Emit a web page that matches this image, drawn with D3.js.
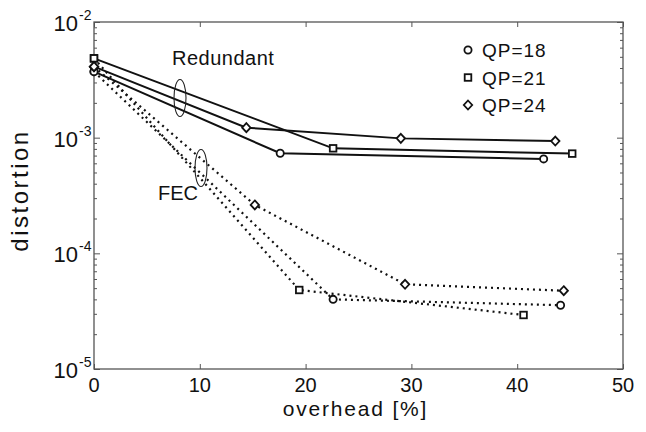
<!DOCTYPE html>
<html>
<head>
<meta charset="utf-8">
<script src="https://cdn.jsdelivr.net/npm/d3@7"></script>
<style>
  body { margin: 0; background: #fff; }
  text { font-family: "Liberation Sans", Arial, sans-serif; fill: #111; }
</style>
</head>
<body>
<div id="chart"></div>
<script>
(function(){

// qp series, overhead [%] and distortion
var qps = ["QP=18", "QP=21", "QP=24"];
var shapes = ["circle", "square", "diamond"];

var redOverhead = [[0, 17.6, 42.5], [0, 22.6, 45.2], [0, 14.4, 29.0, 43.6]];
var redDistortion = [[3.72e-3, 7.33e-4, 6.55e-4],
                     [4.85e-3, 8.09e-4, 7.28e-4],
                     [4.11e-3, 1.22e-3, 9.86e-4, 9.35e-4]];

var fecOverhead = [[0, 22.6, 44.1], [0, 19.4, 40.6], [0, 15.2, 29.4, 44.4]];
var fecDistortion = [[3.72e-3, 4.0e-5, 3.56e-5],
                     [4.85e-3, 4.82e-5, 2.93e-5],
                     [4.11e-3, 2.62e-4, 5.4e-5, 4.75e-5]];

var xTicks = [0, 10, 20, 30, 40, 50];
var yExps = [-2, -3, -4, -5];

var margin = {top: 22, right: 23, bottom: 63, left: 94},
    width = 646 - margin.left - margin.right,
    height = 432 - margin.top - margin.bottom;

var svg = d3.select("#chart")
  .append("svg")
    .attr("width", 646)
    .attr("height", 432)
  .append("g")
    .attr("transform", "translate(" + margin.left + "," + margin.top + ")");

var x = d3.scaleLinear().domain([0, 50]).range([0, width]);
var y = d3.scaleLog().domain([1e-5, 1e-2]).range([height, 0]);

var frameColor = "#555";

// minor + major ticks for the log axis
var yMinor = [];
for (var e = -5; e < -2; e++) {
  for (var k = 2; k <= 9; k++) yMinor.push(k * Math.pow(10, e));
}
var yMajor = yExps.map(function(p) { return Math.pow(10, p); });

function styleAxis(g) {
  g.select(".domain").remove();
  g.selectAll(".tick line").attr("stroke", frameColor).attr("stroke-width", 1);
}

// bottom / top axes (ticks point inward)
svg.append("g")
    .attr("transform", "translate(0," + height + ")")
    .call(d3.axisBottom(x).tickValues(xTicks).tickSize(-5).tickFormat(""))
    .call(styleAxis);
svg.append("g")
    .call(d3.axisTop(x).tickValues(xTicks).tickSize(-5).tickFormat(""))
    .call(styleAxis);

// left / right axes
svg.append("g").call(d3.axisLeft(y).tickValues(yMajor).tickSize(-6).tickFormat("")).call(styleAxis);
svg.append("g").call(d3.axisLeft(y).tickValues(yMinor).tickSize(-3).tickFormat("")).call(styleAxis);
svg.append("g").attr("transform", "translate(" + width + ",0)")
    .call(d3.axisRight(y).tickValues(yMajor).tickSize(-6).tickFormat("")).call(styleAxis);
svg.append("g").attr("transform", "translate(" + width + ",0)")
    .call(d3.axisRight(y).tickValues(yMinor).tickSize(-3).tickFormat("")).call(styleAxis);

svg.append("rect")
    .attr("width", width)
    .attr("height", height)
    .attr("fill", "none")
    .attr("stroke", frameColor)
    .attr("stroke-width", 1.3);

// tick labels
svg.selectAll(".xlab")
    .data(xTicks)
    .enter().append("text")
      .attr("x", function(d) { return x(d); })
      .attr("y", height + 23)
      .attr("text-anchor", "middle")
      .style("font-size", "20px")
      .text(function(d) { return d; });

svg.selectAll(".ylab")
    .data(yExps)
    .enter().append("text")
      .attr("x", -16)
      .attr("y", function(d) { return y(Math.pow(10, d)) + 9; })
      .attr("text-anchor", "end")
      .style("font-size", "22px")
      .text("10");
svg.selectAll(".yexp")
    .data(yExps)
    .enter().append("text")
      .attr("x", -15)
      .attr("y", function(d) { return y(Math.pow(10, d)) - 2; })
      .style("font-size", "14px")
      .text(function(d) { return "-" + Math.abs(d); });

// axis titles
svg.append("text")
    .attr("x", width / 2 - 3)
    .attr("y", height + 47)
    .attr("text-anchor", "middle")
    .style("font-size", "21px")
    .style("letter-spacing", "1.8px")
    .text("overhead [%]");

svg.append("text")
    .attr("transform", "translate(" + (-66) + "," + (height / 2 - 5) + ") rotate(-90)")
    .attr("text-anchor", "middle")
    .style("font-size", "24px")
    .style("letter-spacing", "2.5px")
    .text("distortion");

// lines
var line = d3.line()
    .x(function(d) { return x(d[0]); })
    .y(function(d) { return y(d[1]); });

function pairs(xs, ys) { return xs.map(function(v, i) { return [v, ys[i]]; }); }

qps.forEach(function(q, i) {
  svg.append("path")
      .datum(pairs(fecOverhead[i], fecDistortion[i]))
      .attr("d", line)
      .attr("fill", "none")
      .attr("stroke", "#111")
      .attr("stroke-width", 2.2)
      .attr("stroke-dasharray", "2,4");
  svg.append("path")
      .datum(pairs(redOverhead[i], redDistortion[i]))
      .attr("d", line)
      .attr("fill", "none")
      .attr("stroke", "#111")
      .attr("stroke-width", 2);
});

function marker(g, shape, cx, cy) {
  var m;
  if (shape == "circle") {
    m = g.append("circle").attr("cx", cx).attr("cy", cy).attr("r", 3.6);
  } else if (shape == "square") {
    m = g.append("rect").attr("x", cx - 3.3).attr("y", cy - 3.3).attr("width", 6.6).attr("height", 6.6);
  } else {
    m = g.append("path").attr("d", "M" + cx + "," + (cy - 4.5) + "L" + (cx + 4.2) + "," + cy +
        "L" + cx + "," + (cy + 4.5) + "L" + (cx - 4.2) + "," + cy + "Z");
  }
  m.attr("fill", "#fff").attr("stroke", "#111").attr("stroke-width", 1.8);
}

var marks = svg.append("g");
qps.forEach(function(q, i) {
  pairs(fecOverhead[i], fecDistortion[i]).concat(pairs(redOverhead[i], redDistortion[i]))
    .forEach(function(d) { marker(marks, shapes[i], x(d[0]), y(d[1])); });
});

// annotations
svg.append("ellipse")
    .attr("cx", 180 - margin.left).attr("cy", 98 - margin.top)
    .attr("rx", 6).attr("ry", 18.5)
    .attr("fill", "none").attr("stroke", "#222").attr("stroke-width", 1.1);
svg.append("ellipse")
    .attr("cx", 201 - margin.left).attr("cy", 168 - margin.top)
    .attr("rx", 6).attr("ry", 18.5)
    .attr("fill", "none").attr("stroke", "#222").attr("stroke-width", 1.1);
svg.append("text")
    .attr("x", 172 - margin.left).attr("y", 65 - margin.top)
    .style("font-size", "20px")
    .style("letter-spacing", "0.5px")
    .text("Redundant");
svg.append("text")
    .attr("x", 158 - margin.left).attr("y", 200 - margin.top)
    .style("font-size", "20px")
    .text("FEC");

// legend
var legend = svg.append("g");
qps.forEach(function(q, i) {
  var ly = 50 - margin.top + i * 27.5;
  marker(legend, shapes[i], 468 - margin.left, ly);
  legend.append("text")
      .attr("x", 482 - margin.left)
      .attr("y", ly + 7)
      .style("font-size", "19px")
      .style("letter-spacing", "1px")
      .text(q);
});

})()
</script>
</body>
</html>
